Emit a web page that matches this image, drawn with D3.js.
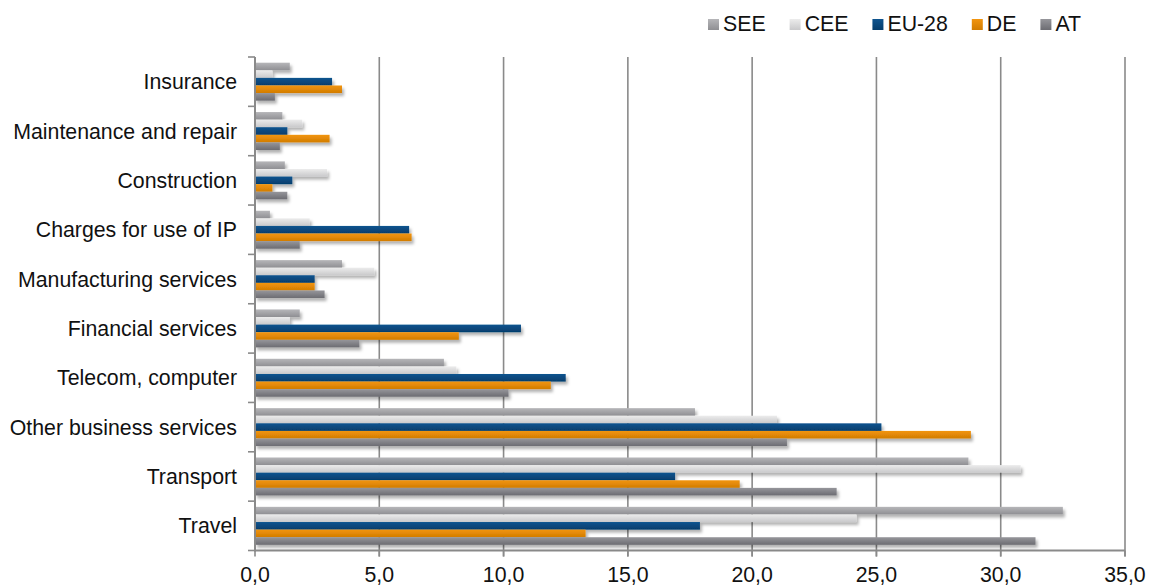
<!DOCTYPE html>
<html>
<head>
<meta charset="utf-8">
<script src="https://cdn.jsdelivr.net/npm/d3@7"></script>
<style>
  html, body { margin: 0; padding: 0; background: #fff; }
  svg { display: block; font-family: "Liberation Sans", Arial, sans-serif; }
</style>
</head>
<body>
<svg id="chart" width="1154" height="587"></svg>
<script>
// ---- Data ----
const categories = ["Insurance", "Maintenance and repair", "Construction", "Charges for use of IP",
  "Manufacturing services", "Financial services", "Telecom, computer", "Other business services",
  "Transport", "Travel"];
const seriesNames = ["SEE", "CEE", "EU-28", "DE", "AT"];
const see  = [1.4, 1.1, 1.2, 0.6, 3.5, 1.8, 7.6, 17.7, 28.7, 32.5];
const cee  = [0.7, 1.9, 2.9, 2.2, 4.8, 1.4, 8.1, 21.0, 30.8, 24.2];
const eu28 = [3.1, 1.3, 1.5, 6.2, 2.4, 10.7, 12.5, 25.2, 16.9, 17.9];
const de   = [3.5, 3.0, 0.7, 6.3, 2.4, 8.2, 11.9, 28.8, 19.5, 13.3];
const at   = [0.8, 1.0, 1.3, 1.8, 2.8, 4.2, 10.2, 21.4, 23.4, 31.4];
const xTicks = [0, 5, 10, 15, 20, 25, 30, 35];

const seriesValues = [see, cee, eu28, de, at];
const colors = {
  "SEE":   ["#b6b6b9", "#8f8f93"],
  "CEE":   ["#ececec", "#c9c9cb"],
  "EU-28": ["#0f548f", "#053d6c"],
  "DE":    ["#f29510", "#d27c00"],
  "AT":    ["#96969b", "#6c6c72"]
};

// ---- Layout ----
const svg = d3.select("#chart");
const plot = { left: 255, right: 1125, top: 57, bottom: 550.5 };
const fontSize = 21.3;

const x = d3.scaleLinear().domain([0, 35]).range([plot.left, plot.right]);
const y0 = d3.scaleBand().domain(categories).range([plot.top, plot.bottom]).padding(0);
const y1 = d3.scaleBand().domain(seriesNames).range([0, y0.bandwidth()]).paddingInner(0).paddingOuter(0.75);

const defs = svg.append("defs");
seriesNames.forEach((s, i) => {
  const g = defs.append("linearGradient").attr("id", "grad" + i)
    .attr("x1", 0).attr("y1", 0).attr("x2", 0).attr("y2", 1);
  g.append("stop").attr("offset", "0%").attr("stop-color", colors[s][0]);
  g.append("stop").attr("offset", "100%").attr("stop-color", colors[s][1]);
});
const f = defs.append("filter").attr("id", "shadow")
  .attr("x", "-5%").attr("y", "-50%").attr("width", "120%").attr("height", "250%");
f.append("feDropShadow").attr("dx", 2).attr("dy", 3).attr("stdDeviation", 1.8)
  .attr("flood-color", "#000").attr("flood-opacity", 0.3);

// Gridlines
svg.append("g").selectAll("line").data(xTicks.filter(t => t > 0)).join("line")
  .attr("x1", d => x(d)).attr("x2", d => x(d))
  .attr("y1", plot.top).attr("y2", plot.bottom + 6)
  .attr("stroke", "#8a8a8a").attr("stroke-width", 1.6);

// Bottom axis line + ticks
svg.append("line").attr("x1", plot.left).attr("x2", plot.right)
  .attr("y1", plot.bottom).attr("y2", plot.bottom)
  .attr("stroke", "#8a8a8a").attr("stroke-width", 2);
svg.append("g").selectAll("line").data(xTicks).join("line")
  .attr("x1", d => x(d)).attr("x2", d => x(d))
  .attr("y1", plot.bottom).attr("y2", plot.bottom + 6)
  .attr("stroke", "#8a8a8a").attr("stroke-width", 1.6);

// Bars
const rows = [];
categories.forEach((c, ci) => {
  seriesNames.forEach((s, si) => rows.push({ cat: c, s, si, v: seriesValues[si][ci] }));
});
svg.append("g").attr("filter", "url(#shadow)")
  .selectAll("rect").data(rows).join("rect")
  .attr("x", x(0))
  .attr("y", d => y0(d.cat) + y1(d.s))
  .attr("width", d => x(d.v) - x(0))
  .attr("height", y1.bandwidth())
  .attr("fill", d => "url(#grad" + d.si + ")");

// Left axis line + ticks at band boundaries
svg.append("line").attr("x1", plot.left).attr("x2", plot.left)
  .attr("y1", plot.top).attr("y2", plot.bottom + 1)
  .attr("stroke", "#8a8a8a").attr("stroke-width", 2);
const boundaries = categories.map(c => y0(c)).concat([plot.bottom]);
svg.append("g").selectAll("line").data(boundaries).join("line")
  .attr("x1", plot.left - 7).attr("x2", plot.left)
  .attr("y1", d => d).attr("y2", d => d)
  .attr("stroke", "#8a8a8a").attr("stroke-width", 1.6);

// Category labels
svg.append("g").selectAll("text").data(categories).join("text")
  .attr("x", plot.left - 18)
  .attr("y", d => y0(d) + y0.bandwidth() / 2)
  .attr("dy", "0.36em")
  .attr("text-anchor", "end")
  .attr("font-size", fontSize)
  .attr("fill", "#111")
  .text(d => d);

// X tick labels
const fmt = v => v.toFixed(1).replace(".", ",");
svg.append("g").selectAll("text").data(xTicks).join("text")
  .attr("x", d => x(d))
  .attr("y", 582)
  .attr("text-anchor", "middle")
  .attr("font-size", fontSize)
  .attr("fill", "#111")
  .text(d => fmt(d));

// Legend
const legend = svg.append("g");
let lx = 708;
seriesNames.forEach((s, i) => {
  const it = legend.append("g").attr("transform", `translate(${lx},0)`);
  it.append("rect").attr("x", 0).attr("y", 19).attr("width", 11).attr("height", 11)
    .attr("fill", "url(#grad" + i + ")");
  const t = it.append("text").attr("x", 15).attr("y", 31)
    .attr("font-size", fontSize).attr("fill", "#111").text(s);
  lx += 15 + t.node().getComputedTextLength() + 24;
});
</script>
</body>
</html>
